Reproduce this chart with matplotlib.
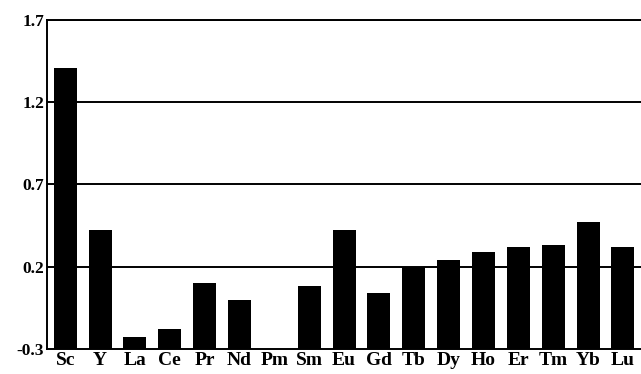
import numpy as np
import matplotlib.pyplot as plt

# values
elements = ["Sc", "Y", "La", "Ce", "Pr", "Nd", "Pm", "Sm", "Eu",
            "Gd", "Tb", "Dy", "Ho", "Er", "Tm", "Yb", "Lu"]
values = [1.41, 0.42, -0.23, -0.18, 0.10, 0.00, np.nan, 0.08, 0.42,
          0.04, 0.20, 0.24, 0.29, 0.32, 0.33, 0.47, 0.32]
yticks = [-0.3, 0.2, 0.7, 1.2, 1.7]
base = -0.3

plt.rcParams['font.family'] = ['Liberation Serif', 'DejaVu Serif']
plt.rcParams['font.weight'] = 'bold'

fig = plt.figure(figsize=(6.41, 3.74), dpi=100)
ax = fig.add_axes([0.073, 0.067, 0.927, 0.88])

x = np.arange(len(elements))
heights = [v - base for v in values]
ax.bar(x, heights, bottom=base, width=0.66, color="black", zorder=3)

for y in yticks[1:]:
    ax.axhline(y, color="black", lw=1.4, zorder=1)

ax.set_xlim(-0.53, len(elements) - 0.48)
ax.set_ylim(-0.3, 1.7)
ax.set_yticks(yticks)
ax.set_yticklabels([f"{t:.1f}" for t in yticks], fontsize=12.5, fontweight="bold")
ax.set_xticks(x)
ax.set_xticklabels(elements, fontsize=14, fontweight="bold")
ax.tick_params(axis="both", length=0)
ax.tick_params(axis="x", pad=2.5)
ax.tick_params(axis="y", pad=2)

for s in ["right"]:
    ax.spines[s].set_visible(False)
for s in ["left", "bottom", "top"]:
    ax.spines[s].set_linewidth(1.4)

fig.savefig("out.png", dpi=100)
